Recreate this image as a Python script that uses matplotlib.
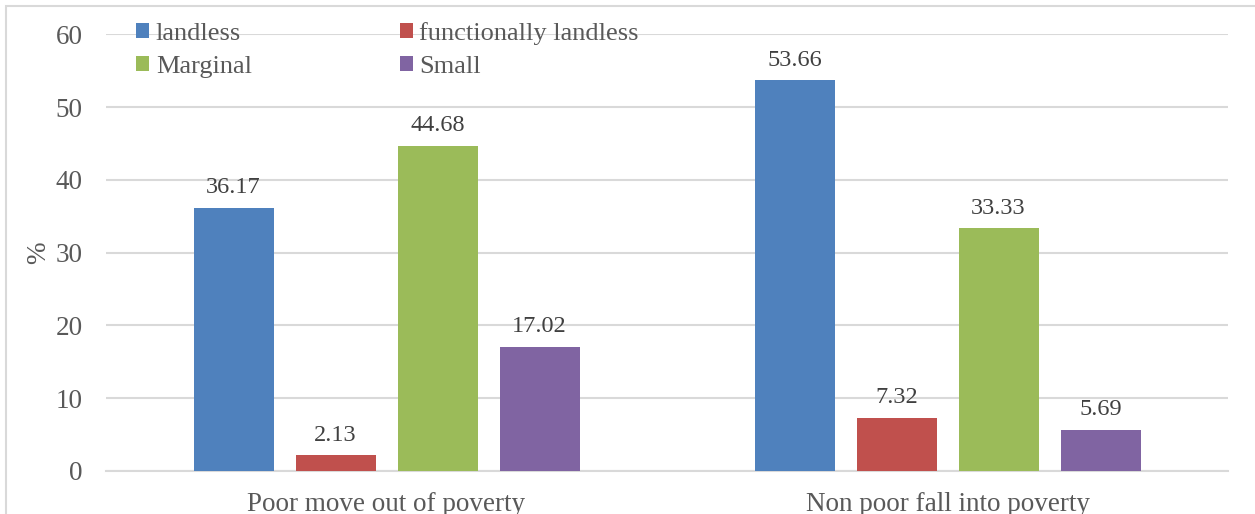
import numpy as np
import matplotlib.pyplot as plt
from matplotlib.patches import Rectangle

# categories and land-holding series (%)
groups = ['Poor move out of poverty', 'Non poor fall into poverty']
series = ['landless', 'functionally landless', 'Marginal', 'Small']
landless = [36.17, 53.66]
func_landless = [2.13, 7.32]
marginal = [44.68, 33.33]
small = [17.02, 5.69]
yticks = [0, 10, 20, 30, 40, 50, 60]

colors = ['#4F81BD', '#C0504D', '#9BBB59', '#8064A2']
txt = '#595959'

plt.rcParams['font.family'] = ['Liberation Serif', 'DejaVu Serif']

W, H = 1255, 514
fig = plt.figure(figsize=(W / 100, H / 100), dpi=100)
ax = fig.add_axes([106 / W, 43 / H, (1228 - 106) / W, (471 - 34.3) / H])

# light chart-area frame
fig.patches.append(Rectangle((6 / W, -0.1), 1.2, (H - 6.5) / H + 0.1,
                             transform=fig.transFigure, fill=False,
                             edgecolor='#D9D9D9', linewidth=1.5))

x = np.arange(len(groups))
width = 80 / 561
step = 102 / 561
vals = [landless, func_landless, marginal, small]
handles = []
for i, (name, v) in enumerate(zip(series, vals)):
    bars = ax.bar(x + (i - 1.5) * step, v, width, color=colors[i], label=name, zorder=3)
    handles.append(bars)
    for b, val in zip(bars, v):
        ax.annotate(f'{val:.2f}', (b.get_x() + b.get_width() / 2, val),
                    xytext=(0, 7), textcoords='offset points',
                    ha='center', va='bottom', fontsize=17.5, color='#404040')

ax.set_xlim(-0.5, 1.5)
ax.set_ylim(0, 60)
ax.set_yticks(yticks)
ax.set_xticks(x)
ax.set_xticklabels(groups)
ax.tick_params(axis='both', length=0, labelsize=19.5, colors=txt)
ax.tick_params(axis='x', pad=15)
ax.tick_params(axis='y', pad=17)
ax.yaxis.grid(True, color='#D9D9D9', linewidth=1.5, zorder=0)
ax.set_axisbelow(True)
for s in ['top', 'right', 'left']:
    ax.spines[s].set_visible(False)
ax.spines['bottom'].set_color('#D9D9D9')
ax.spines['bottom'].set_linewidth(1.5)
ax.set_ylabel('%', fontsize=19.5, color=txt, labelpad=3)

# legend filled row by row: landless / functionally landless on top
order = [0, 2, 1, 3]
leg = fig.legend([handles[k] for k in order], [series[k] for k in order],
                 loc='upper left', bbox_to_anchor=(136 / W, 1 - 22 / H), ncol=2,
                 frameon=False, fontsize=19, handlelength=0.5, handleheight=0.5,
                 handletextpad=0.25, columnspacing=5.6, labelspacing=0.4,
                 borderpad=0, borderaxespad=0)
for t in leg.get_texts():
    t.set_color(txt)

fig.savefig('out.png', dpi=100)
